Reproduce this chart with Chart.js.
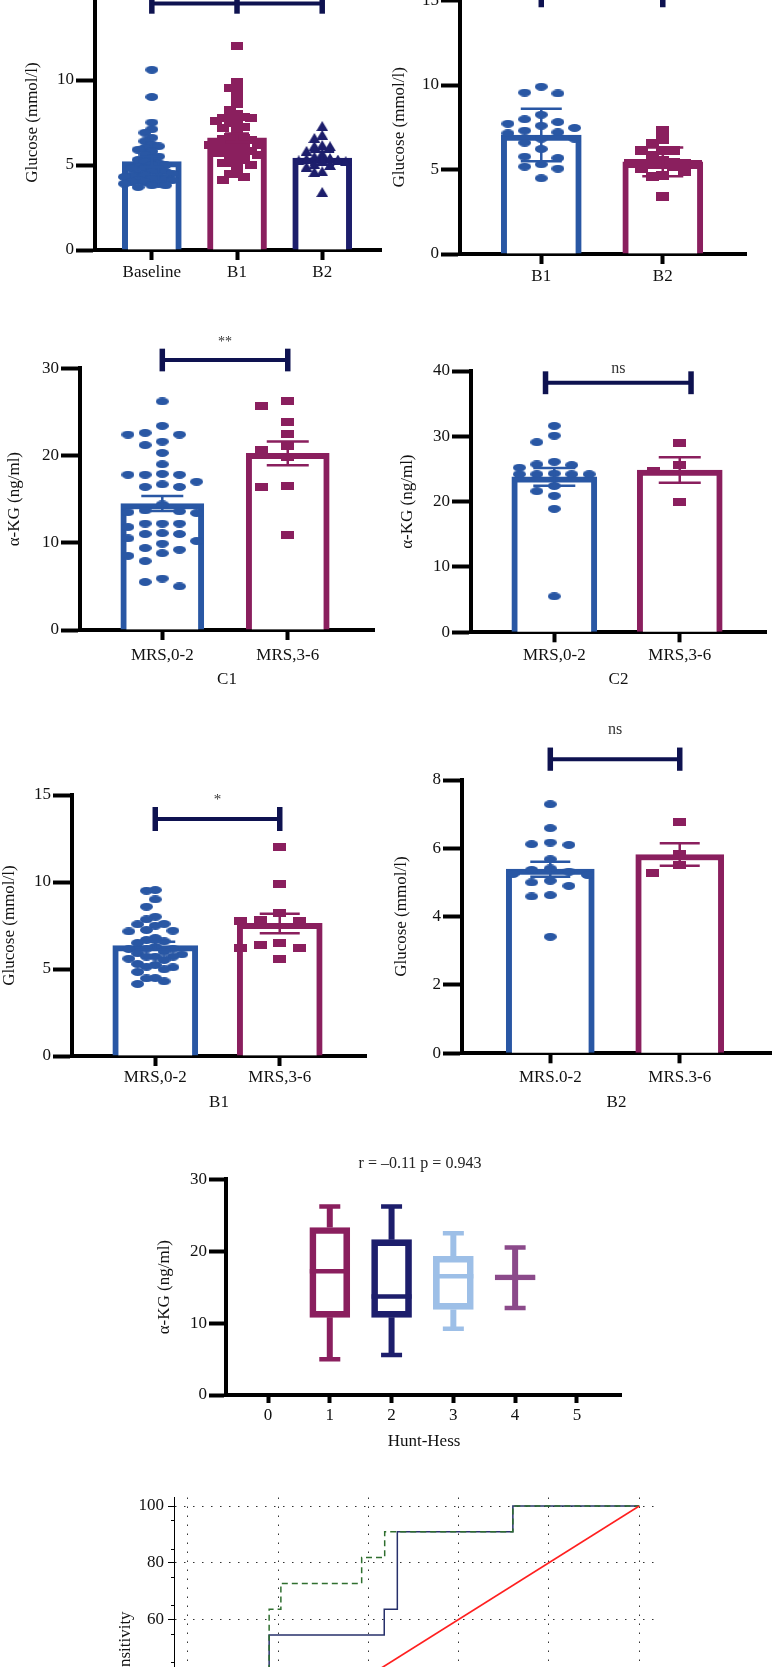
<!DOCTYPE html>
<html>
<head>
<meta charset="utf-8">
<script src="https://cdn.jsdelivr.net/npm/chart.js@4.4.1/dist/chart.umd.min.js"></script>
<style>
html, body { margin: 0; padding: 0; background: #fff; }
body { position: relative; width: 777px; height: 1667px; overflow: hidden; }
canvas { position: absolute; }
</style>
</head>
<body>
<script>
// ---- data ----
// A: glucose at baseline / B1 / B2
const aCats = ['Baseline', 'B1', 'B2'];
const aMeans = [5.2, 6.6, 5.4];
const aErr = [0.3, 0.25, 0.38];
const aBaseline = [10.6, 9.0, 7.5, 7.1, 6.9, 6.6, 6.4, 6.2, 6.1, 6.0, 5.9, 5.8, 5.6, 5.5, 5.4, 5.3, 5.2, 5.1,
  5.0, 5.0, 4.9, 4.8, 4.8, 4.7, 4.6, 4.6, 4.5, 4.5, 4.4, 4.4, 4.3, 4.3, 4.2, 4.2, 4.1, 4.1, 4.0, 4.0,
  3.9, 3.9, 3.8, 3.8, 3.7];

// paired B1 vs B2
const pairCats = ['B1', 'B2'];
const pairMeans = [7.04, 5.45];
const pairErr = [1.55, 0.85];
const pairB1 = [9.9, 9.5, 9.55, 8.24, 7.71, 7.97, 7.81, 7.59, 7.46, 7.2, 7.14, 7.3, 6.82, 6.82, 6.59, 6.21,
  5.76, 5.68, 5.31, 5.05, 5.17, 4.48];
const pairB2 = [7.3, 6.75, 6.55, 6.1, 6.11, 6.11, 5.82, 5.56, 5.27, 5.37, 5.37, 5.37, 5.4, 5.27, 4.87, 4.58,
  4.67, 5.07, 3.39, 5.2, 5.3];

// C1 / C2 alpha-KG by MRS
const mrsCats = ['MRS,0-2', 'MRS,3-6'];
const c1Means = [14.5, 20.25];
const c1Err = [0.85, 1.37];
const c1Low = [26.2, 23.4, 22.4, 22.4, 22.6, 21.6, 21.2, 20.3, 19.0, 17.8, 17.0, 17.8, 17.8, 17.9, 16.7, 16.4,
  16.4, 14.4, 13.7, 13.4, 13.5, 13.6, 11.8, 12.2, 12.2, 12.2, 10.5, 11.0, 11.0, 11.1, 9.9, 10.2, 9.4, 9.2,
  8.5, 8.8, 7.9, 5.9, 5.5, 5.0];
const c1High = [25.7, 26.3, 23.9, 22.5, 20.6, 21.1, 19.8, 16.5, 16.4, 10.9];
const c2Means = [23.8, 24.85];
const c2Err = [1.35, 1.95];
const c2Low = [31.6, 30.1, 29.1, 25.7, 25.2, 25.6, 26.1, 24.2, 24.3, 24.2, 24.2, 24.2, 22.4, 21.6, 20.9, 18.9, 5.5];
const c2High = [29.0, 24.7, 25.6, 20.0];

// B1 / B2 glucose by MRS
const b1Means = [6.34, 7.62];
const b1Err = [0.22, 0.56];
const b1Low = [9.5, 9.54, 9.0, 8.58, 8.0, 7.85, 7.49, 7.59, 7.57, 7.16, 7.24, 7.2, 6.5, 6.78, 6.59, 6.15, 6.67,
  6.28, 6.17, 5.9, 6.17, 6.0, 5.84, 5.59, 5.71, 5.71, 5.71, 5.29, 4.83, 5.52, 5.23, 5.13, 5.1, 4.98, 4.29,
  4.48, 4.46, 4.14];
const b1High = [12.0, 9.88, 8.24, 7.76, 7.76, 7.8, 6.51, 6.19, 6.19, 6.38, 5.56];
const b2Cats = ['MRS.0-2', 'MRS.3-6'];
const b2Means = [5.39, 5.82];
const b2Err = [0.22, 0.33];
const b2Low = [7.29, 6.59, 6.17, 6.1, 6.12, 5.68, 5.41, 5.32, 5.22, 5.37, 5.25, 4.9, 5.0, 5.05, 4.59, 4.63, 3.41];
const b2High = [6.77, 5.83, 5.27, 5.5];

// Hunt-Hess box plot
const hhTicks = [0, 1, 2, 3, 4, 5];
const hhGrades = [1, 2, 3, 4];
const hhMin = [4.96, 5.56, 9.2, 12.1];
const hhQ1 = [10.8, 10.8, 11.9, 16.0];
const hhMed = [17.2, 13.7, 16.5, 16.3];
const hhQ3 = [23.3, 21.6, 19.3, 16.7];
const hhMax = [26.2, 26.2, 22.5, 20.5];

// ROC curves (100-specificity, sensitivity)
const rocFpr = [0, 0, 9.1, 18.0, 43.5, 46.4, 72.0, 100];
const rocTpr = [0, 18.2, 36.4, 54.5, 63.6, 90.9, 100, 100];
const roc2Fpr = [0, 0, 9.1, 18.0, 20.6, 38.5, 43.6, 72.0, 100];
const roc2Tpr = [0, 27.3, 36.4, 63.6, 72.7, 81.8, 90.9, 100, 100];
const refFpr = [0, 100];
const refTpr = [0, 100];
const rocXTicks = [0, 20, 40, 60, 80, 100];
const rocYTicks = [0, 20, 40, 60, 80, 100];

// ---- drawing ----
const FONT = "'Liberation Serif', 'DejaVu Serif', serif";
const BLUE = '#2957a4', MAG = '#8a1f5e', NAVY = '#1d1e6c', BRK = '#0e1250';
Chart.defaults.font.family = FONT;
Chart.defaults.color = '#111';

function addCanvas(left, top, w, h) {
  const c = document.createElement('canvas');
  c.width = w; c.height = h;
  c.style.left = left + 'px'; c.style.top = top + 'px';
  c.style.width = w + 'px'; c.style.height = h + 'px';
  document.body.appendChild(c);
  return c;
}

function marker(shape, color, w, h) {
  const c = document.createElement('canvas');
  c.width = w; c.height = h;
  const g = c.getContext('2d');
  g.fillStyle = color;
  g.beginPath();
  if (shape === 'ellipse') g.ellipse(w / 2, h / 2, w / 2, h / 2, 0, 0, Math.PI * 2);
  else if (shape === 'tri') { g.moveTo(w / 2, 0); g.lineTo(w, h); g.lineTo(0, h); g.closePath(); }
  else g.rect(0, 0, w, h);
  g.fill();
  return c;
}

// simple beeswarm: highest values first, nearest free column
function swarm(vals, cx, step, gap, maxK) {
  const slots = [0];
  for (let k = 1; k <= maxK; k++) slots.push(-k, k);
  const placed = [];
  const idx = vals.map((v, i) => i).sort((a, b) => vals[b] - vals[a]);
  return idx.map(i => {
    const v = vals[i];
    let best = 0, bestD = -1;
    for (const k of slots) {
      let d = Infinity;
      placed.forEach(p => { if (p.k === k) d = Math.min(d, Math.abs(p.y - v)); });
      if (d >= gap) { best = k; break; }
      if (d > bestD) { bestD = d; best = k; }
    }
    placed.push({k: best, y: v});
    return {x: cx + best * step, y: v};
  });
}

const FS = 17;
const fnt = {family: FONT, size: FS};
const LH = FS * 1.2;

function dotPanel(p) {
  const w = p.right - p.left, h = p.bottom - p.top;
  const pxX = (p.right - p.axisX) / (p.xMax - p.xMin);
  const pxY = (p.y0 - p.yTop) / p.yMax;
  const datasets = [{
    type: 'bar', order: 2,
    data: p.means.map((m, i) => ({x: i, y: m})),
    backgroundColor: '#fff', borderColor: p.colors, borderWidth: 6,
    barThickness: p.barW, borderSkipped: 'start'
  }];
  p.groups.forEach((g, i) => datasets.push({
    type: 'scatter', order: 1,
    data: swarm(g.vals, i, g.step / pxX, g.gap / pxY, g.k),
    pointStyle: marker(g.shape, p.colors[i], g.mw || 13, g.mh || 8),
    pointRadius: 5
  }));
  const overlay = {
    id: 'overlay',
    afterDraw(chart) {
      const {ctx, scales: {x, y}} = chart;
      ctx.save();
      p.means.forEach((m, i) => {
        const px = x.getPixelForValue(i);
        const t = y.getPixelForValue(m + p.errs[i]), b = y.getPixelForValue(m - p.errs[i]);
        ctx.strokeStyle = p.colors[i];
        ctx.lineWidth = 2.5;
        ctx.beginPath();
        ctx.moveTo(px, t); ctx.lineTo(px, b);
        ctx.moveTo(px - p.cap / 2, t); ctx.lineTo(px + p.cap / 2, t);
        ctx.moveTo(px - p.cap / 2, b); ctx.lineTo(px + p.cap / 2, b);
        ctx.stroke();
      });
      const br = p.bracket;
      if (br) {
        const xs = br.xs.map(v => x.getPixelForValue(v));
        const yy = y.getPixelForValue(br.y);
        ctx.strokeStyle = BRK;
        ctx.lineWidth = 4;
        ctx.beginPath(); ctx.moveTo(xs[0], yy); ctx.lineTo(xs[xs.length - 1], yy); ctx.stroke();
        ctx.lineWidth = 5.5;
        xs.forEach(xx => {
          ctx.beginPath();
          ctx.moveTo(xx, y.getPixelForValue(br.y + br.half));
          ctx.lineTo(xx, y.getPixelForValue(br.y - br.half));
          ctx.stroke();
        });
        if (br.text) {
          ctx.fillStyle = '#333';
          ctx.font = (br.size || 16) + 'px ' + FONT;
          ctx.textAlign = 'center'; ctx.textBaseline = 'middle';
          ctx.fillText(br.text, (xs[0] + xs[xs.length - 1]) / 2, y.getPixelForValue(br.textY));
        }
      }
      ctx.restore();
    }
  };
  new Chart(addCanvas(p.left, p.top, w, h), {
    type: 'bar',
    data: {datasets: datasets},
    plugins: [overlay],
    options: {
      responsive: false, animation: false, events: [],
      layout: {padding: {top: p.yTop - p.top, left: 0, right: 0, bottom: 0}},
      plugins: {legend: {display: false}, tooltip: {enabled: false}},
      scales: {
        x: {
          type: 'linear', min: p.xMin, max: p.xMax, offset: false, bounds: 'data',
          afterBuildTicks: s => { s.ticks = p.cats.map((c, i) => ({value: i})); },
          afterFit: s => { s.height = p.bottom - p.y0; },
          grid: {drawOnChartArea: false, offset: false, tickLength: 10, tickWidth: 4, tickColor: '#000'},
          border: {color: '#000', width: 4},
          ticks: {autoSkip: false, maxRotation: 0, padding: p.xLabelY - p.y0 - 10 - LH / 2, font: fnt,
            callback: v => p.cats[v]},
          title: {display: !!p.xTitle, text: p.xTitle || '', font: fnt,
            padding: {top: 0, bottom: p.bottom - (p.xTitleY || 0) - LH / 2}}
        },
        y: {
          min: 0, max: p.yMax, bounds: 'data',
          afterBuildTicks: s => { s.ticks = p.yTicks.map(v => ({value: v})); },
          afterFit: s => { s.width = p.axisX - p.left; },
          grid: {drawOnChartArea: false, tickLength: 19, tickWidth: 4, tickColor: '#000'},
          border: {color: '#000', width: 4},
          ticks: {padding: 2, font: fnt},
          title: {display: true, text: p.yTitle, font: fnt,
            padding: {top: p.yTitleX - p.left - LH / 2, bottom: 0}}
        }
      }
    }
  });
}

const glu = 'Glucose (mmol/l)', akg = 'α-KG (ng/ml)';

dotPanel({
  left: 0, top: -35, right: 387, bottom: 300, axisX: 95, y0: 250, yTop: -5, yMax: 15,
  xMin: -0.667, xMax: 2.69, cats: aCats, yTicks: [0, 5, 10, 15],
  means: aMeans, errs: aErr, colors: [BLUE, MAG, NAVY], barW: 59, cap: 24,
  groups: [
    {vals: aBaseline, shape: 'ellipse', step: 7, gap: 6, k: 4},
    {vals: b1Low.concat(b1High), shape: 'rect', step: 7, gap: 6, k: 4, mw: 12, mh: 8},
    {vals: b2Low.concat(b2High), shape: 'tri', step: 8, gap: 7, k: 3, mw: 12, mh: 10}
  ],
  yTitle: glu, yTitleX: 33, xLabelY: 273,
  bracket: {xs: [0, 1, 2], y: 14.5, half: 0.6}
});

dotPanel({
  left: 385, top: -30, right: 752, bottom: 300, axisX: 460, y0: 254, yTop: 0.5, yMax: 15,
  xMin: -0.669, xMax: 1.685, cats: pairCats, yTicks: [0, 5, 10, 15],
  means: pairMeans, errs: pairErr, colors: [BLUE, MAG], barW: 80, cap: 41,
  groups: [
    {vals: pairB1, shape: 'ellipse', step: 17, gap: 9, k: 2},
    {vals: pairB2, shape: 'rect', step: 11, gap: 8, k: 3, mw: 13, mh: 9}
  ],
  yTitle: glu, yTitleX: 400, xLabelY: 277,
  bracket: {xs: [0, 1], y: 15.35, half: 0.75}
});

dotPanel({
  left: 0, top: 320, right: 380, bottom: 700, axisX: 80, y0: 630, yTop: 368.3, yMax: 30,
  xMin: -0.656, xMax: 1.6875, cats: mrsCats, yTicks: [0, 10, 20, 30],
  means: c1Means, errs: c1Err, colors: [BLUE, MAG], barW: 83, cap: 42,
  groups: [
    {vals: c1Low, shape: 'ellipse', step: 17.5, gap: 9, k: 2},
    {vals: c1High, shape: 'rect', step: 27, gap: 9, k: 1}
  ],
  yTitle: akg, yTitleX: 15, xLabelY: 656, xTitle: 'C1', xTitleY: 680,
  bracket: {xs: [0, 1], y: 30.95, half: 1.3, text: '**', textY: 33.0, size: 14}
});

dotPanel({
  left: 390, top: 320, right: 772, bottom: 700, axisX: 471, y0: 632.3, yTop: 371, yMax: 40,
  xMin: -0.664, xMax: 1.6875, cats: mrsCats, yTicks: [0, 10, 20, 30, 40],
  means: c2Means, errs: c2Err, colors: [BLUE, MAG], barW: 85, cap: 42,
  groups: [
    {vals: c2Low, shape: 'ellipse', step: 17.8, gap: 9, k: 2},
    {vals: c2High, shape: 'rect', step: 27, gap: 9, k: 1}
  ],
  yTitle: akg, yTitleX: 408, xLabelY: 656, xTitle: 'C2', xTitleY: 680,
  bracket: {xs: [-0.07, 1.09], y: 38.2, half: 1.75, text: 'ns', textY: 40.3}
});

dotPanel({
  left: 0, top: 760, right: 372, bottom: 1125, axisX: 72, y0: 1056, yTop: 795, yMax: 15,
  xMin: -0.669, xMax: 1.693, cats: mrsCats, yTicks: [0, 5, 10, 15],
  means: b1Means, errs: b1Err, colors: [BLUE, MAG], barW: 85, cap: 40,
  groups: [
    {vals: b1Low, shape: 'ellipse', step: 9, gap: 8, k: 4},
    {vals: b1High, shape: 'rect', step: 20, gap: 9, k: 2}
  ],
  yTitle: glu, yTitleX: 10, xLabelY: 1078, xTitle: 'B1', xTitleY: 1103,
  bracket: {xs: [0, 1], y: 13.62, half: 0.69, text: '*', textY: 14.7, size: 15}
});

dotPanel({
  left: 390, top: 700, right: 777, bottom: 1125, axisX: 462, y0: 1053.3, yTop: 780, yMax: 8,
  xMin: -0.682, xMax: 1.705, cats: b2Cats, yTicks: [0, 2, 4, 6, 8],
  means: b2Means, errs: b2Err, colors: [BLUE, MAG], barW: 88, cap: 40,
  groups: [
    {vals: b2Low, shape: 'ellipse', step: 19, gap: 9, k: 2},
    {vals: b2High, shape: 'rect', step: 28, gap: 9, k: 1}
  ],
  yTitle: glu, yTitleX: 402, xLabelY: 1078, xTitle: 'B2', xTitleY: 1103,
  bracket: {xs: [0, 1], y: 8.61, half: 0.34, text: 'ns', textY: 9.46}
});

// ---- Hunt-Hess box plot ----
(function () {
  const L = 140, T = 1140, R = 622, B = 1465, AX = 226, Y0 = 1395, YT = 1179.3;
  const colors = [MAG, NAVY, '#9dbfe7', '#8b4a8a'];
  const whiskers = {
    id: 'whiskers',
    afterDatasetsDraw(chart) {
      const {ctx, scales: {x, y}} = chart;
      ctx.save();
      hhGrades.forEach((g, i) => {
        const px = x.getPixelForValue(g);
        ctx.strokeStyle = colors[i];
        ctx.lineWidth = 6;
        ctx.beginPath();
        ctx.moveTo(px, y.getPixelForValue(hhQ3[i])); ctx.lineTo(px, y.getPixelForValue(hhMax[i]));
        ctx.moveTo(px, y.getPixelForValue(hhQ1[i])); ctx.lineTo(px, y.getPixelForValue(hhMin[i]));
        ctx.stroke();
        ctx.lineWidth = 4.5;
        ctx.beginPath();
        [hhMax[i], hhMin[i]].forEach(v => {
          const py = y.getPixelForValue(v);
          ctx.moveTo(px - 10.5, py); ctx.lineTo(px + 10.5, py);
        });
        const pm = y.getPixelForValue(hhMed[i]);
        ctx.moveTo(px - 20, pm); ctx.lineTo(px + 20, pm);
        ctx.stroke();
      });
      ctx.fillStyle = '#222';
      ctx.font = '16px ' + FONT;
      ctx.textAlign = 'center'; ctx.textBaseline = 'middle';
      ctx.fillText('r = \u20130.11 p = 0.943', x.getPixelForValue(2.46), y.getPixelForValue(32.1));
      ctx.restore();
    }
  };
  new Chart(addCanvas(L, T, R - L, B - T), {
    type: 'bar',
    data: {datasets: [{
      data: hhGrades.map((g, i) => ({x: g, y: [hhQ1[i], hhQ3[i]]})),
      backgroundColor: 'rgba(255,255,255,0)', borderColor: colors, borderWidth: 6,
      borderSkipped: false, barThickness: 40
    }]},
    plugins: [whiskers],
    options: {
      responsive: false, animation: false, events: [],
      layout: {padding: {top: YT - T, left: 0, right: 0, bottom: 0}},
      plugins: {legend: {display: false}, tooltip: {enabled: false}},
      scales: {
        x: {
          type: 'linear', min: -0.68, max: 5.73, offset: false, bounds: 'data',
          afterBuildTicks: s => { s.ticks = hhTicks.map(v => ({value: v})); },
          afterFit: s => { s.height = B - Y0; },
          grid: {drawOnChartArea: false, offset: false, tickLength: 8, tickWidth: 4, tickColor: '#000'},
          border: {color: '#000', width: 4},
          ticks: {autoSkip: false, maxRotation: 0, padding: 1416 - Y0 - 8 - LH / 2, font: fnt},
          title: {display: true, text: 'Hunt-Hess', font: fnt, padding: {top: 0, bottom: B - 1442 - LH / 2}}
        },
        y: {
          min: 0, max: 30, bounds: 'data',
          afterBuildTicks: s => { s.ticks = [0, 10, 20, 30].map(v => ({value: v})); },
          afterFit: s => { s.width = AX - L; },
          grid: {drawOnChartArea: false, tickLength: 17, tickWidth: 4, tickColor: '#000'},
          border: {color: '#000', width: 4},
          ticks: {padding: 2, font: fnt},
          title: {display: true, text: akg, font: fnt, padding: {top: 165 - L - LH / 2, bottom: 0}}
        }
      }
    }
  });
})();

// ---- ROC ----
(function () {
  const L = 100, T = 1480, R = 660, B = 1848, AX = 174, YT = 1497.5, YB = 1798;
  const minorTicks = {
    id: 'minorTicks',
    afterDraw(chart) {
      const {ctx, scales: {y}} = chart;
      ctx.save();
      ctx.strokeStyle = '#000'; ctx.lineWidth = 1;
      for (let v = 5; v < 100; v += 10) {
        const py = Math.round(y.getPixelForValue(v)) + 0.5;
        ctx.beginPath(); ctx.moveTo(AX - L - 3, py); ctx.lineTo(AX - L, py); ctx.stroke();
      }
      ctx.restore();
    }
  };
  const pts = (xs, ys) => xs.map((v, i) => ({x: v, y: ys[i]}));
  new Chart(addCanvas(L, T, R - L, B - T), {
    type: 'scatter',
    data: {datasets: [
      {data: pts(refFpr, refTpr), showLine: true, borderColor: '#ff1f1f', borderWidth: 1.5, pointRadius: 0, order: 0},
      {data: pts(roc2Fpr, roc2Tpr), showLine: true, stepped: 'before', borderColor: '#2f6f2f', borderWidth: 1.5,
        borderDash: [6, 4], pointRadius: 0, order: 1},
      {data: pts(rocFpr, rocTpr), showLine: true, stepped: 'before', borderColor: '#27306b', borderWidth: 1.5,
        pointRadius: 0, order: 2}
    ]},
    plugins: [minorTicks],
    options: {
      responsive: false, animation: false, events: [],
      layout: {padding: {top: YT - T, left: 0, right: 0, bottom: 0}},
      plugins: {legend: {display: false}, tooltip: {enabled: false}},
      scales: {
        x: {
          type: 'linear', min: -3.08, max: 103.7, bounds: 'data',
          afterBuildTicks: s => { s.ticks = rocXTicks.map(v => ({value: v})); },
          afterFit: s => { s.height = B - YB; },
          grid: {color: '#333', lineWidth: 1, drawTicks: false},
          border: {display: false, dash: [1.5, 7.5]},
          ticks: {font: fnt, padding: 8},
          title: {display: true, text: '100-Specificity', font: fnt}
        },
        y: {
          min: -3, max: 103, bounds: 'data',
          afterBuildTicks: s => { s.ticks = rocYTicks.map(v => ({value: v})); },
          afterFit: s => { s.width = AX - L; },
          grid: {color: '#333', lineWidth: 1, tickLength: 6, tickColor: '#000', tickWidth: 1, tickBorderDash: []},
          border: {color: '#000', width: 1, dash: [1.5, 7.5]},
          ticks: {padding: 4, font: fnt},
          title: {display: true, text: 'Sensitivity', font: fnt,
            padding: {top: 126 - L - LH / 2, bottom: 0}}
        }
      }
    }
  });
})();
</script>
</body>
</html>
